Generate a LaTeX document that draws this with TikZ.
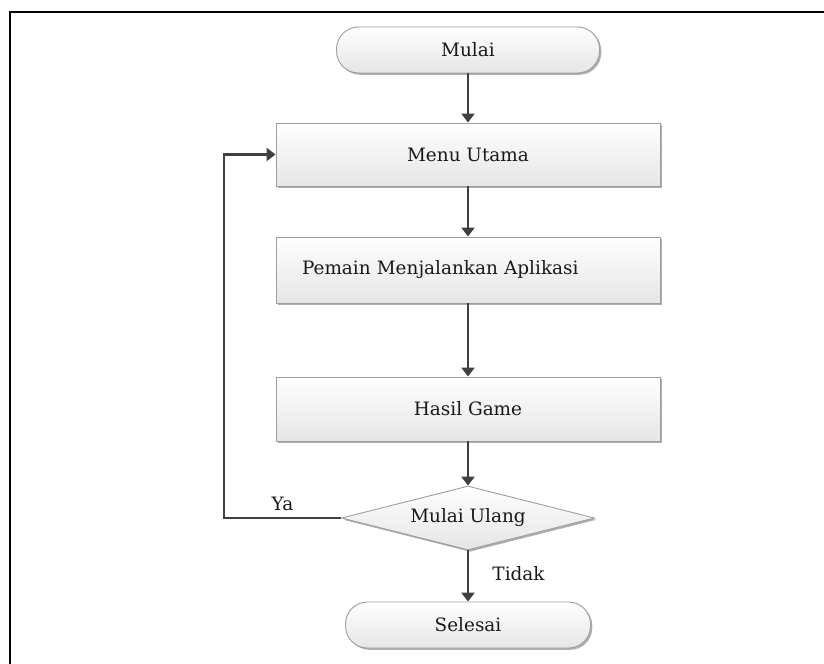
\documentclass[tikz,border=0pt]{standalone}
\usepackage{fontspec}
\setmainfont{DejaVu Serif}
\usetikzlibrary{shapes.geometric, shadows, arrows.meta}

\begin{document}
\begin{tikzpicture} [x = 1bp, y = -1bp,
    every node/.style = {font=\fontsize{18.5}{22}\selectfont, text=black!90},
    kotak/.style = {draw=black!38, line width=0.9bp, top color=white, bottom color=black!10,
      minimum width=384bp, drop shadow={shadow xshift=1.8bp, shadow yshift=-1.8bp, fill=black!45, opacity=0.7}},
    ujung/.style = {kotak, rounded corners=22bp, minimum height=46bp},
    pilihan/.style = {kotak, diamond, aspect=4, inner sep=0pt, minimum width=253bp, minimum height=64bp},
    panah/.style = {draw=black!75, line width=2.3bp, -{Triangle[length=9bp, width=13bp]}}]
      \useasboundingbox (0,0) rectangle (824,664);

      % bingkai
      \draw [line width=2.4bp](10,664)--(10,12)--(824,12);

      % simbol alur
      \node [ujung, minimum width=263bp] (mulai) at (468,50) {Mulai};
      \node [kotak, minimum height=63bp] (menu) at (468,154.5) {Menu Utama};
      \node [kotak, minimum height=66bp, text width=332bp, inner xsep=26bp, align=left] (pemain) at (468,270) {Pemain Menjalankan Aplikasi};
      \node [kotak, minimum height=64bp] (hasil) at (468,409) {Hasil Game};
      \node [pilihan] (ulang) at (468,518) {Mulai Ulang};
      \node [ujung, minimum width=245bp] (selesai) at (468,625) {Selesai};

      % panah
      \draw [panah](mulai)--(menu);
      \draw [panah](menu)--(pemain);
      \draw [panah](pemain)--(hasil);
      \draw [panah](hasil)--(ulang);
      \draw [panah](ulang)--node [right=20bp, pos=0.45] (tidak) {Tidak} (selesai);

      % kembali ke menu
      \coordinate (balik) at (224,518);
      \draw [panah](ulang.west)--node [above=3bp] (ya) {Ya} (balik) |- (menu.west);
    \end{tikzpicture}
\end{document}
